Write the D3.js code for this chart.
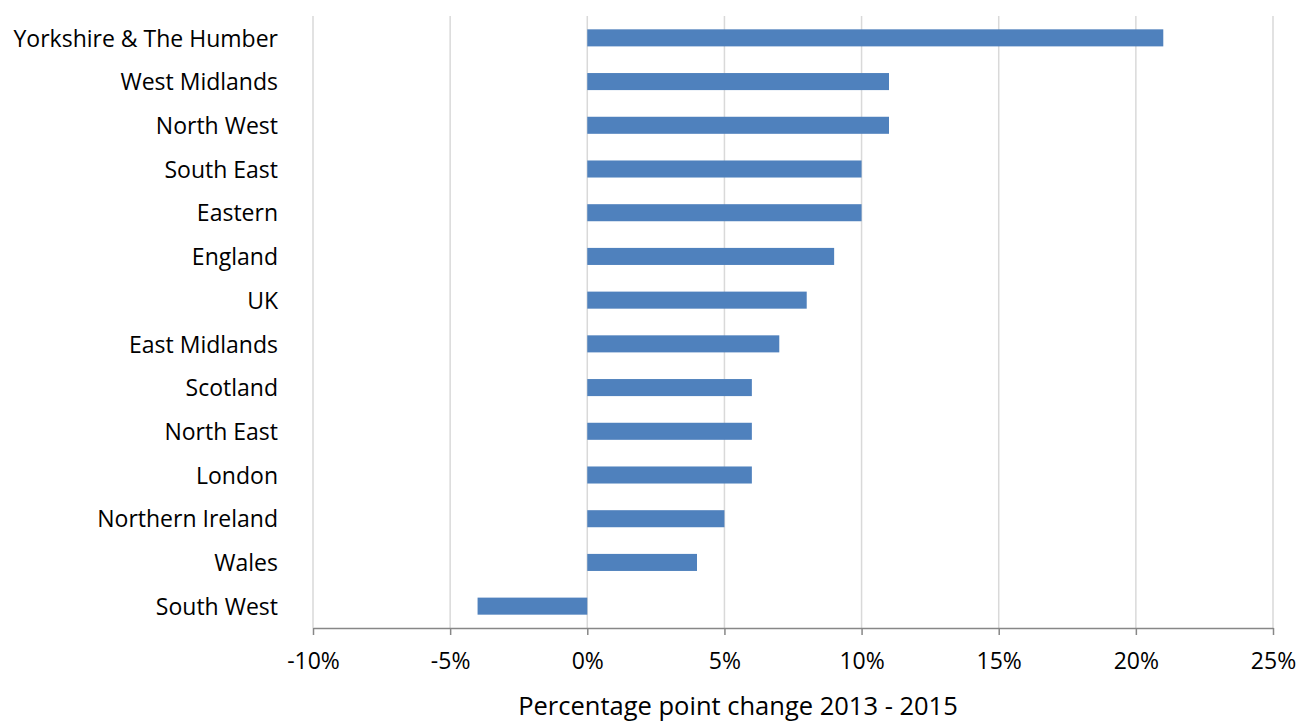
<!DOCTYPE html>
<html>
<head>
<meta charset="utf-8">
<script src="https://cdn.jsdelivr.net/npm/d3@7"></script>
<style>
  body { margin: 0; background: #fff; }
  text { font-family: "Open Sans", sans-serif; fill: #000; }
</style>
</head>
<body>
<svg></svg>
<script>
// regions, top to bottom
const regions = ["Yorkshire & The Humber", "West Midlands", "North West", "South East",
  "Eastern", "England", "UK", "East Midlands", "Scotland", "North East", "London",
  "Northern Ireland", "Wales", "South West"];
// percentage point change 2013 - 2015
const changes = [21, 11, 11, 10, 10, 9, 8, 7, 6, 6, 6, 5, 4, -4];
const xTicks = [-10, -5, 0, 5, 10, 15, 20, 25];

const width = 1299;
const height = 724;
const plotLeft = 313, plotRight = 1273, plotTop = 16, plotBottom = 628;

const svg = d3.select("svg")
    .attr("width", width)
    .attr("height", height);

// Scales
const xScale = d3.scaleLinear()
    .domain([-10, 25])
    .range([plotLeft, plotRight]);

const yScale = d3.scaleBand()
    .domain(regions)
    .range([plotTop, plotBottom])
    .paddingInner(0.61)
    .paddingOuter(0.305);

// gridlines
svg.insert("g")
  .selectAll("line")
  .data(xTicks)
  .enter()
  .append("line")
    .attr("x1", d => xScale(d))
    .attr("x2", d => xScale(d))
    .attr("y1", plotTop)
    .attr("y2", plotBottom)
    .attr("stroke", "#d9d9d9")
    .attr("stroke-width", 1.5);

// bars
svg.insert("g")
  .selectAll("rect")
  .data(regions)
  .enter()
  .append("rect")
    .attr("x", (d, i) => xScale(Math.min(0, changes[i])))
    .attr("width", (d, i) => Math.abs(xScale(changes[i]) - xScale(0)))
    .attr("y", d => yScale(d))
    .attr("height", yScale.bandwidth())
    .attr("fill", "#4f81bd");

// x axis
const xAxis = d3.axisBottom(xScale)
    .tickValues(xTicks)
    .tickFormat(d => d + "%")
    .tickSize(7)
    .tickSizeOuter(0)
    .tickPadding(18);

const gx = svg.insert("g")
    .attr("transform", `translate(0, ${plotBottom})`)
    .call(xAxis);
gx.select(".domain").attr("stroke", "#878787").attr("stroke-width", 1.5);
gx.selectAll(".tick line").attr("stroke", "#878787").attr("stroke-width", 1.5);
gx.selectAll(".tick text")
    .attr("font-size", "23px")
    .attr("font-family", "Open Sans, sans-serif");

// y labels
svg.insert("g")
  .selectAll("text")
  .data(regions)
  .enter()
  .append("text")
    .text(d => d)
    .attr("x", 278)
    .attr("y", d => yScale(d) + yScale.bandwidth() / 2)
    .attr("dy", "0.38em")
    .attr("text-anchor", "end")
    .attr("font-size", "23px");

// axis title
svg.insert("text")
    .text("Percentage point change 2013 - 2015")
    .attr("x", 738)
    .attr("y", 715)
    .attr("text-anchor", "middle")
    .attr("font-size", "25.5px");
</script>
</body>
</html>
